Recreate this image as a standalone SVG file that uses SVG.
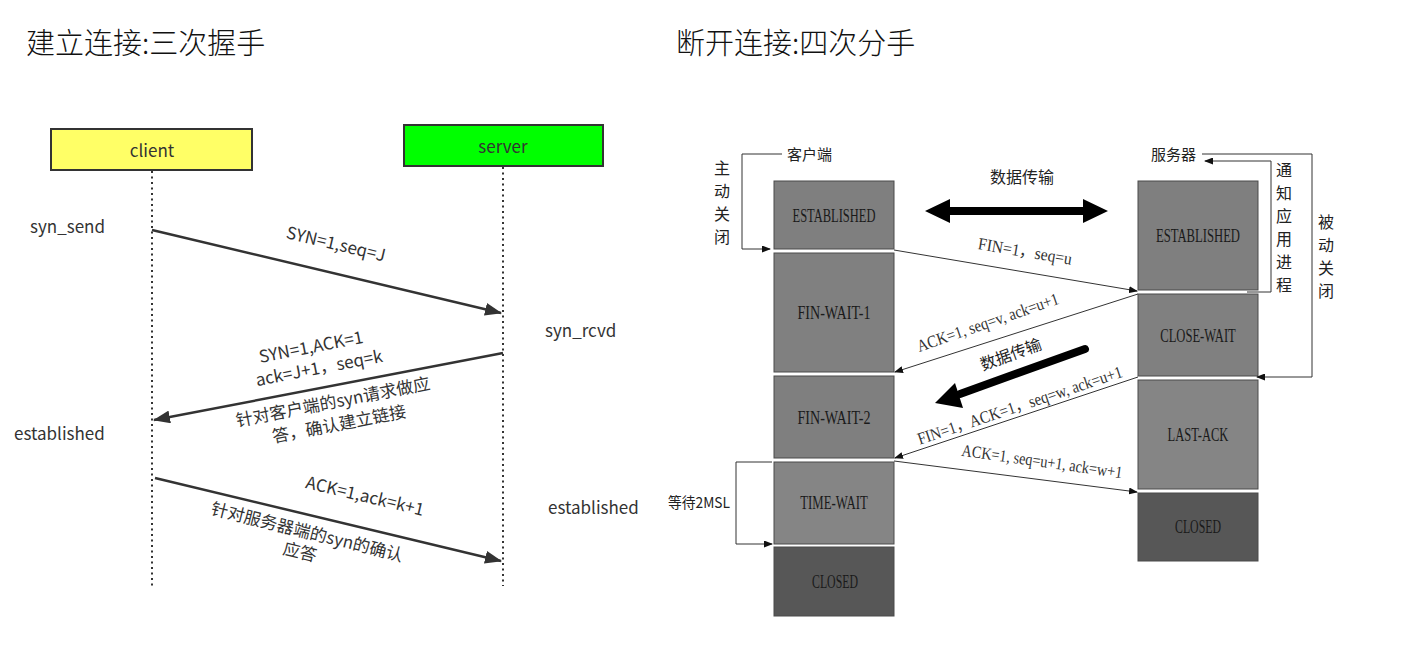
<svg xmlns="http://www.w3.org/2000/svg" width="1409" height="669" viewBox="0 0 1409 669">
<style>
.title{font-family:"Noto Sans CJK SC","Noto Sans",sans-serif;font-size:29px;font-weight:300;fill:#111}
.lab{font-family:"Noto Sans CJK SC","Noto Sans",sans-serif;font-size:17px;fill:#333}
.box{stroke:#333;stroke-width:2}
.life{stroke:#333;stroke-width:2;stroke-dasharray:2 3.5;fill:none}
.msg{stroke:#333;stroke-width:2.5;fill:none}
.st{stroke:#4a4a4a;stroke-width:1}
.sttext{font-family:"Liberation Serif",serif;font-size:19px;fill:#1a1a1a;text-anchor:middle}
.rl{font-family:"Liberation Serif","Noto Sans CJK SC",serif;font-size:17px;fill:#333}
.cn{font-family:"Noto Sans CJK SC",sans-serif;font-size:15px;fill:#222}
.thin{stroke:#333;stroke-width:1;fill:none}
</style>
<defs>
<marker id="bigHead" markerUnits="userSpaceOnUse" markerWidth="17" markerHeight="13" refX="16" refY="6.5" orient="auto">
<path d="M0,0 L17,6.5 L0,13 z" fill="#333"/>
</marker>
<marker id="smallHead" markerUnits="userSpaceOnUse" markerWidth="9" markerHeight="7" refX="8" refY="3.5" orient="auto">
<path d="M0,0 L9,3.5 L0,7 z" fill="#111"/>
</marker>
</defs>
<rect width="1409" height="669" fill="#fff"/>

<text class="title" x="26" y="54">建立连接:三次握手</text>
<text class="title" x="676" y="54">断开连接:四次分手</text>

<!-- Left: three-way handshake -->
<g id="client">
<rect class="box" x="51" y="129" width="201" height="41" fill="#ffff66"/>
<text class="lab" x="152" y="157" text-anchor="middle">client</text>
</g>
<g id="server">
<rect class="box" x="404" y="125" width="199" height="41" fill="#00ff00"/>
<text class="lab" x="503" y="153" text-anchor="middle">server</text>
</g>
<g id="left-states">
<text class="lab" x="30" y="233">syn_send</text>
<text class="lab" x="545" y="337">syn_rcvd</text>
<text class="lab" x="14" y="440">established</text>
<text class="lab" x="548" y="514">established</text>
</g>
<g id="left-connectors">
<line class="life" x1="152" y1="171" x2="152" y2="586"/>
<line class="life" x1="503" y1="167" x2="503" y2="586"/>
<line class="msg" x1="152" y1="230" x2="501" y2="313" marker-end="url(#bigHead)"/>
<line class="msg" x1="503" y1="353" x2="154" y2="420" marker-end="url(#bigHead)"/>
<line class="msg" x1="155" y1="478" x2="501" y2="561" marker-end="url(#bigHead)"/>
<g class="lab" text-anchor="middle">
<text transform="translate(336,244) rotate(13.4)" y="6">SYN=1,seq=J</text>
<text transform="translate(311,347) rotate(-11)" y="6">SYN=1,ACK=1</text>
<text transform="translate(319,368) rotate(-11)" y="6">ack=J+1，seq=k</text>
<text transform="translate(333,402) rotate(-11)" y="6">针对客户端的syn请求做应</text>
<text transform="translate(339,424) rotate(-11)" y="6">答，确认建立链接</text>
<text transform="translate(365,496) rotate(13.4)" y="6">ACK=1,ack=k+1</text>
<text transform="translate(307,532) rotate(14)" y="6">针对服务器端的syn的确认</text>
<text transform="translate(300,552) rotate(14)" y="6">应答</text>
</g>
</g>

<!-- Right: four-way wave -->
<g id="c-established"><rect class="st" x="774" y="181" width="120" height="68" fill="#7f7f7f"/><text class="sttext" transform="translate(834,222) scale(0.658,1)">ESTABLISHED</text></g>
<g id="c-fin-wait-1"><rect class="st" x="774" y="253" width="120" height="119" fill="#808080"/><text class="sttext" transform="translate(834,319) scale(0.742,1)">FIN-WAIT-1</text></g>
<g id="c-fin-wait-2"><rect class="st" x="774" y="376" width="120" height="82" fill="#7f7f7f"/><text class="sttext" transform="translate(834,424) scale(0.742,1)">FIN-WAIT-2</text></g>
<g id="c-time-wait"><rect class="st" x="774" y="462" width="120" height="82" fill="#858585"/><text class="sttext" transform="translate(834,509) scale(0.674,1)">TIME-WAIT</text></g>
<g id="c-closed"><rect class="st" x="774" y="547" width="120" height="69" fill="#575757"/><text class="sttext" transform="translate(835,588) scale(0.622,1)">CLOSED</text></g>

<g id="s-established"><rect class="st" x="1138" y="181" width="120" height="109" fill="#7f7f7f"/><text class="sttext" transform="translate(1198,242) scale(0.666,1)">ESTABLISHED</text></g>
<g id="s-close-wait"><rect class="st" x="1138" y="294" width="120" height="82" fill="#808080"/><text class="sttext" transform="translate(1198,342) scale(0.663,1)">CLOSE-WAIT</text></g>
<g id="s-last-ack"><rect class="st" x="1138" y="380" width="120" height="109" fill="#858585"/><text class="sttext" transform="translate(1198,441) scale(0.66,1)">LAST-ACK</text></g>
<g id="s-closed"><rect class="st" x="1138" y="493" width="120" height="68" fill="#575757"/><text class="sttext" transform="translate(1198,533) scale(0.622,1)">CLOSED</text></g>

<g id="right-labels">
<text class="cn" x="787" y="160">客户端</text>
<text class="cn" x="1151" y="160">服务器</text>
<text class="cn" x="668" y="508" textLength="62" lengthAdjust="spacingAndGlyphs">等待2MSL</text>
<text class="cn" x="1022" y="183" text-anchor="middle" style="font-size:16px">数据传输</text>
<text class="cn" text-anchor="middle" style="font-size:16px"><tspan x="722" y="174">主</tspan><tspan x="722" dy="23">动</tspan><tspan x="722" dy="23">关</tspan><tspan x="722" dy="23">闭</tspan></text>
<text class="cn" text-anchor="middle" style="font-size:16px"><tspan x="1284" y="176">通</tspan><tspan x="1284" dy="23">知</tspan><tspan x="1284" dy="23">应</tspan><tspan x="1284" dy="23">用</tspan><tspan x="1284" dy="23">进</tspan><tspan x="1284" dy="23">程</tspan></text>
<text class="cn" text-anchor="middle" style="font-size:16px"><tspan x="1326" y="228">被</tspan><tspan x="1326" dy="23">动</tspan><tspan x="1326" dy="23">关</tspan><tspan x="1326" dy="23">闭</tspan></text>
</g>

<g id="right-connectors">
<path class="thin" d="M782,154 H742 V249 H770" marker-end="url(#smallHead)"/>
<path class="thin" d="M772,462 H736 V544 H772" marker-end="url(#smallHead)"/>
<path class="thin" d="M1247,292 H1271 V161 H1205" marker-end="url(#smallHead)"/>
<path class="thin" d="M1202,154 H1312 V377 H1257" marker-end="url(#smallHead)"/>
<line class="thin" x1="894" y1="250" x2="1137" y2="291" marker-end="url(#smallHead)"/>
<line class="thin" x1="1138" y1="294" x2="895" y2="372" marker-end="url(#smallHead)"/>
<line class="thin" x1="1138" y1="377" x2="895" y2="458" marker-end="url(#smallHead)"/>
<line class="thin" x1="894" y1="461" x2="1137" y2="492" marker-end="url(#smallHead)"/>
<polygon points="925,211 950,199 950,207 1083,207 1083,199 1108,211 1083,223 1083,215 950,215 950,223" fill="#000"/>
<line x1="1085" y1="349" x2="960" y2="394" stroke="#000" stroke-width="8" stroke-linecap="round"/>
<polygon points="935,403 963,408 955,383" fill="#000"/>
<g class="rl" text-anchor="middle">
<text transform="translate(1025,252) rotate(9.5)" y="5" textLength="95" lengthAdjust="spacingAndGlyphs">FIN=1，seq=u</text>
<text transform="translate(988,323) rotate(-19)" y="5" textLength="149" lengthAdjust="spacingAndGlyphs">ACK=1, seq=v, ack=u+1</text>
<text class="cn" transform="translate(1011,355) rotate(-20)" y="5" style="font-size:16px">数据传输</text>
<text transform="translate(1020,406) rotate(-18.5)" y="5" textLength="215" lengthAdjust="spacingAndGlyphs">FIN=1，ACK=1，seq=w, ack=u+1</text>
<text transform="translate(1042,462) rotate(8)" y="5" textLength="162" lengthAdjust="spacingAndGlyphs">ACK=1, seq=u+1, ack=w+1</text>
</g>
</g>
</svg>
